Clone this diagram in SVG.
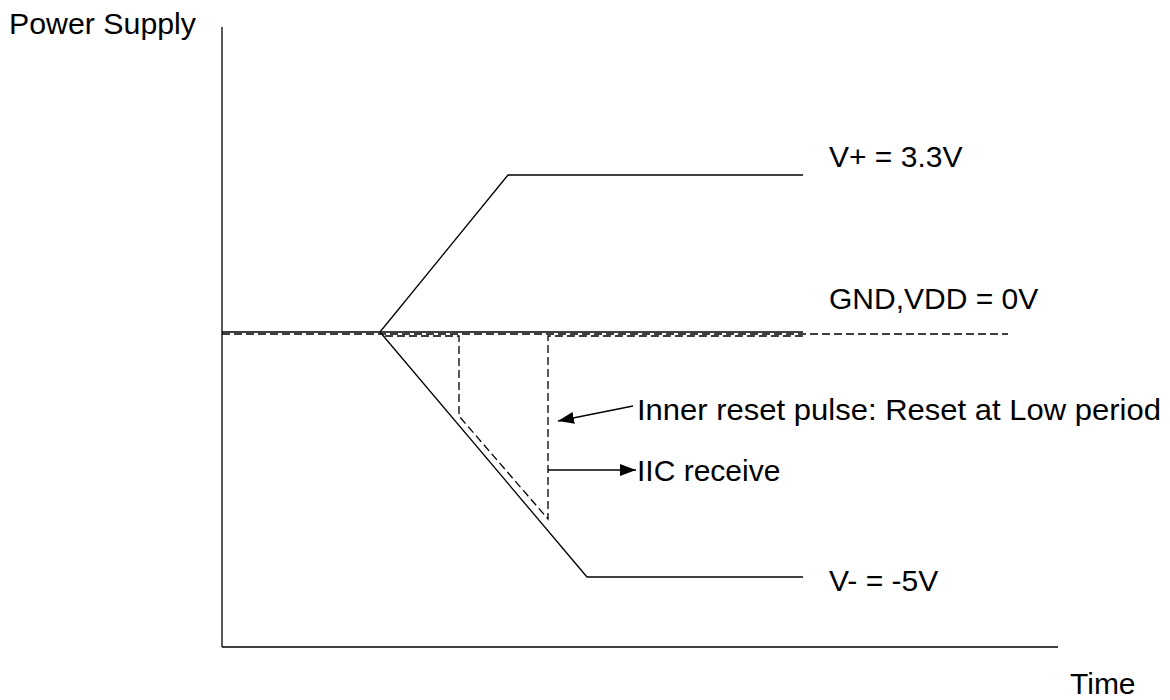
<svg xmlns="http://www.w3.org/2000/svg" width="1170" height="700" viewBox="0 0 1170 700">
<style>
.t{font-family:"Liberation Sans",Arial,sans-serif;font-size:30px;fill:#000}
.s{fill:none;stroke:#000;stroke-width:1.3}
.d{fill:none;stroke:#000;stroke-width:1.3;stroke-dasharray:8,4}
</style>
<defs>
<marker id="ah2" viewBox="0 0 16 12" refX="16" refY="6" markerWidth="16" markerHeight="12" markerUnits="userSpaceOnUse" orient="auto">
<path d="M0,0 L16,6 L0,12 Z" fill="#000"/>
</marker>
</defs>
<rect width="1170" height="700" fill="#fff"/>
<g id="axes">
<line class="s" x1="222" y1="27" x2="222" y2="647"/>
<line class="s" x1="222" y1="647" x2="1058" y2="647"/>
</g>
<g id="gnd">
<line class="s" x1="222" y1="332" x2="803" y2="332"/>
<line class="d" x1="222" y1="334" x2="1008" y2="334"/>
</g>
<g id="vplus"><polyline class="s" points="380,332 508,175 803,175"/></g>
<g id="vminus"><polyline class="s" points="380,332 587,577 803,577"/></g>
<g id="reset"><polyline class="d" points="385,336 459,336 459,416 548,519 548,336 803,336"/></g>
<g id="connectors">
<line class="s" x1="633" y1="406" x2="558" y2="421" marker-end="url(#ah2)"/>
<line class="s" x1="548" y1="470" x2="636" y2="470" marker-end="url(#ah2)"/>
</g>
<g id="labels">
<text class="t" x="9" y="34" textLength="187" lengthAdjust="spacingAndGlyphs">Power Supply</text>
<text class="t" x="829" y="167">V+ = 3.3V</text>
<text class="t" x="829" y="309">GND,VDD = 0V</text>
<text class="t" x="637" y="420" textLength="524" lengthAdjust="spacingAndGlyphs">Inner reset pulse: Reset at Low period</text>
<text class="t" x="637" y="481">IIC receive</text>
<text class="t" x="829" y="591">V- = -5V</text>
<text class="t" x="1070" y="694">Time</text>
</g>
</svg>
